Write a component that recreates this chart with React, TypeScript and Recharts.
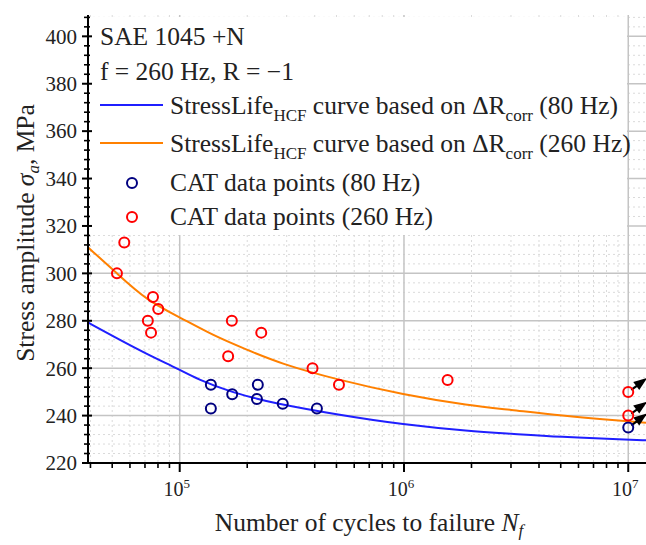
import React from 'react';
import { ComposedChart, XAxis, YAxis, CartesianGrid, Line, Scatter, Customized } from 'recharts';

// Fitted StressLife curves
const curve80N = [3.9e4, 5.07e4, 7.15e4, 1e5, 1.19e5, 1.71e5, 2.21e5, 2.53e5, 5.01e5, 9.9e5, 1.97e6, 2.96e6, 4.95e6, 9.8e6, 1.2e7];
const curve80S = [279.3, 273.4, 265.9, 259.4, 255.5, 249.8, 247.2, 245.6, 240.4, 236.2, 233.4, 232.4, 231, 229.9, 229.6];
const curve260N = [3.9e4, 5.25e4, 7.15e4, 1e5, 1.415e5, 1.99e5, 2.8e5, 5.01e5, 9.9e5, 1.97e6, 2.96e6, 4.95e6, 9.8e6, 1.2e7];
const curve260S = [311, 300, 288.5, 281.5, 273.7, 267.8, 262, 255.2, 248.8, 244.2, 242.5, 240, 237.6, 237];

// CAT data points
const cat80N = [1.377e5, 1.377e5, 1.714e5, 2.21e5, 2.23e5, 2.88e5, 4.09e5, 1e7];
const cat80S = [253, 243, 249, 247, 253, 245, 243, 235];
const cat80Runout = [false, false, false, false, false, false, false, true];
const cat260N = [5.25e4, 5.66e4, 7.6e4, 8.02e4, 7.21e4, 7.45e4, 1.708e5, 1.644e5, 2.31e5, 3.91e5, 5.13e5, 1.565e6, 1e7, 1e7];
const cat260S = [300, 313, 290, 285, 280, 275, 280, 265, 275, 260, 253, 255, 250, 240];
const cat260Runout = [false, false, false, false, false, false, false, false, false, false, false, false, true, true];

// Ticks
const xMajorTicks = [1e5, 1e6, 1e7];
const xMinorTicks = [4e4, 5e4, 6e4, 7e4, 8e4, 9e4, 2e5, 3e5, 4e5, 5e5, 6e5, 7e5, 8e5, 9e5, 2e6, 3e6, 4e6, 5e6, 6e6, 7e6, 8e6, 9e6];
const yMajorTicks = [220, 240, 260, 280, 300, 320, 340, 360, 380, 400];
const yMinorTicks = [224, 228, 232, 236, 244, 248, 252, 256, 264, 268, 272, 276, 284, 288, 292, 296, 304, 308, 312, 316, 324, 328, 332, 336, 344, 348, 352, 356, 364, 368, 372, 376, 384, 388, 392, 396, 404, 408];

const curve80 = curve80N.map((n, i) => ({ n, s: curve80S[i] }));
const curve260 = curve260N.map((n, i) => ({ n, s: curve260S[i] }));
const cat80 = cat80N.map((n, i) => ({ n, s: cat80S[i], runout: cat80Runout[i] }));
const cat260 = cat260N.map((n, i) => ({ n, s: cat260S[i], runout: cat260Runout[i] }));

const FONT = '"Liberation Serif", "DejaVu Serif", serif';
const TXT = '#222';

const XTick = (props: any) => {
  const { x, y, payload } = props;
  const v = payload.value;
  const major = xMajorTicks.includes(v);
  const exp = Math.round(Math.log10(v));
  return (
    <g>
      <line x1={x} x2={x} y1={y} y2={y + (major ? 9 : 5)} stroke="#000" strokeWidth={major ? 2 : 1.6} />
      {major && (
        <text x={x - 3} y={y + 33} textAnchor="middle" fontFamily={FONT} fontSize={20} fill={TXT}>
          10<tspan dy={-8} fontSize={13}>{exp}</tspan>
        </text>
      )}
    </g>
  );
};

const YTick = (props: any) => {
  const { x, y, payload } = props;
  const v = payload.value;
  const major = yMajorTicks.includes(v);
  return (
    <g>
      <line x1={x - (major ? 6 : 4)} x2={x + (major ? 4 : 2)} y1={y} y2={y} stroke="#000" strokeWidth={major ? 2 : 1.6} />
      {major && (
        <text x={x - 11} y={y} dy="0.35em" textAnchor="end" fontFamily={FONT} fontSize={21} fill={TXT}>
          {v}
        </text>
      )}
    </g>
  );
};

const makeShape = (color: string) => (props: any) => {
  const { cx, cy, payload } = props;
  if (cx == null || cy == null) return <g />;
  return (
    <g>
      {payload && payload.runout && (
        <g>
          <line x1={cx + 3} y1={cy - 2} x2={cx + 10} y2={cy - 7} stroke="#000" strokeWidth={2.2} />
          <path d={`M ${cx + 19} ${cy - 14} L ${cx + 5} ${cy - 10} L ${cx + 11} ${cy - 2} Z`} fill="#000" />
        </g>
      )}
      <circle cx={cx} cy={cy} r={5} fill="none" stroke={color} strokeWidth={2} />
    </g>
  );
};

const Overlay = () => {
  const fs = 25.5;
  const sub = 17;
  return (
    <g fontFamily={FONT} fill={TXT}>
      <rect x={89} y={17} width={538} height={218} fill="#fff" />
      <text x={100} y={45} fontSize={fs}>SAE 1045 +N</text>
      <text x={100} y={80} fontSize={fs}>f = 260 Hz, R = −1</text>
      <line x1={100} x2={163} y1={105} y2={105} stroke="#1f1fff" strokeWidth={2} />
      <text x={170} y={114} fontSize={fs}>
        StressLife<tspan dy={7} fontSize={sub}>HCF</tspan>
        <tspan dy={-7}> curve based on ΔR</tspan>
        <tspan dy={7} fontSize={sub}>corr</tspan>
        <tspan dy={-7}> (80 Hz)</tspan>
      </text>
      <line x1={100} x2={163} y1={143} y2={143} stroke="#ff8000" strokeWidth={2} />
      <text x={170} y={152} fontSize={fs}>
        StressLife<tspan dy={7} fontSize={sub}>HCF</tspan>
        <tspan dy={-7}> curve based on ΔR</tspan>
        <tspan dy={7} fontSize={sub}>corr</tspan>
        <tspan dy={-7}> (260 Hz)</tspan>
      </text>
      <circle cx={132} cy={183} r={5} fill="none" stroke="#000080" strokeWidth={2} />
      <text x={170} y={191} fontSize={fs}>CAT data points (80 Hz)</text>
      <circle cx={132} cy={217} r={5} fill="none" stroke="#ff0000" strokeWidth={2} />
      <text x={170} y={225} fontSize={fs}>CAT data points (260 Hz)</text>

      <text x={369} y={531} fontSize={25.5} textAnchor="middle">
        Number of cycles to failure <tspan fontStyle="italic">N</tspan>
        <tspan fontStyle="italic" fontSize={sub} dy={5}>f</tspan>
      </text>
      <text x={0} y={0} fontSize={25.5} textAnchor="middle" transform="translate(34,233) rotate(-90)">
        Stress amplitude <tspan fontStyle="italic">σ</tspan>
        <tspan fontStyle="italic" fontSize={sub} dy={5}>a</tspan>
        <tspan dy={-5}>, MPa</tspan>
      </text>
    </g>
  );
};

export default function App() {
  return (
    <div style={{ position: 'absolute', left: 0, top: 0, width: 646, height: 545, background: '#fff' }}>
      <ComposedChart width={646} height={545} margin={{ top: 15, right: 0, left: 0, bottom: 0 }}>
        <CartesianGrid
          verticalValues={xMinorTicks}
          horizontalValues={yMinorTicks}
          stroke="#dadada"
          strokeDasharray="2 3"
          strokeWidth={1}
        />
        <CartesianGrid
          verticalValues={xMajorTicks}
          horizontalValues={yMajorTicks}
          stroke="#c4c4c4"
          strokeWidth={1.5}
        />
        <XAxis
          type="number"
          dataKey="n"
          scale="log"
          domain={[3.9e4, 1.2e7]}
          allowDataOverflow
          ticks={[...xMinorTicks, ...xMajorTicks].sort((a, b) => a - b)}
          interval={0}
          tickSize={0}
          tickMargin={0}
          height={82}
          axisLine={{ stroke: '#000', strokeWidth: 2 }}
          tickLine={false}
          tick={(p: any) => <XTick {...p} />}
        />
        <YAxis
          type="number"
          dataKey="s"
          domain={[220, 409]}
          allowDataOverflow
          ticks={[...yMinorTicks, ...yMajorTicks].sort((a, b) => a - b)}
          interval={0}
          tickSize={0}
          tickMargin={0}
          width={88}
          axisLine={{ stroke: '#000', strokeWidth: 2 }}
          tickLine={false}
          tick={(p: any) => <YTick {...p} />}
        />
        <Customized component={Overlay} />
        <Line data={curve80} dataKey="s" type="basis" stroke="#1f1fff" strokeWidth={2} dot={false} isAnimationActive={false} />
        <Line data={curve260} dataKey="s" type="basis" stroke="#ff8000" strokeWidth={2} dot={false} isAnimationActive={false} />
        <Scatter data={cat80} dataKey="s" shape={makeShape('#000080')} isAnimationActive={false} />
        <Scatter data={cat260} dataKey="s" shape={makeShape('#ff0000')} isAnimationActive={false} />
      </ComposedChart>
    </div>
  );
}
